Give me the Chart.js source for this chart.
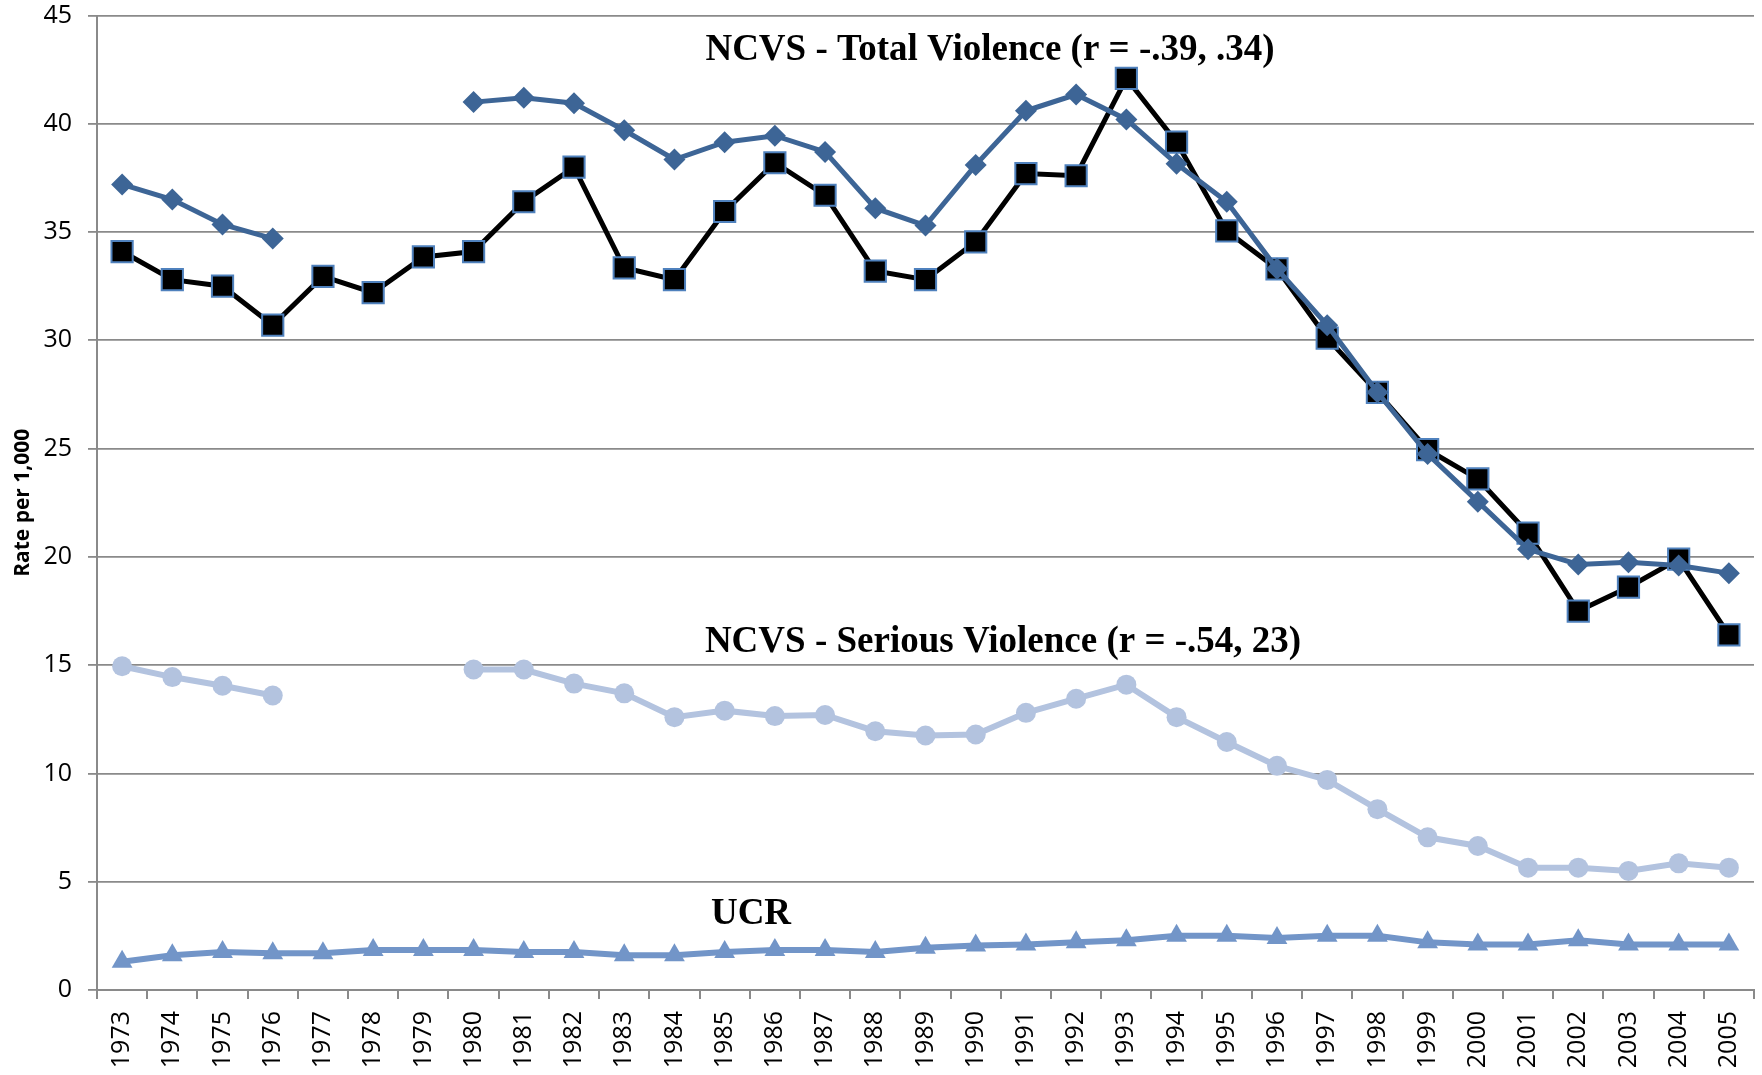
<!DOCTYPE html>
<html>
<head>
<meta charset="utf-8">
<script src="https://cdn.jsdelivr.net/npm/chart.js@4/dist/chart.umd.min.js"></script>
<style>
  html, body { margin: 0; padding: 0; background: #fff; overflow: hidden; }
  #wrap { width: 1762px; height: 1075px; position: relative; }
  canvas { display: block; }
</style>
</head>
<body>
<div id="wrap"><canvas id="chart" width="1762" height="1075"></canvas></div>
<script>
// years on the category axis
const years = [
  "1973","1974","1975","1976","1977","1978","1979","1980","1981","1982","1983",
  "1984","1985","1986","1987","1988","1989","1990","1991","1992","1993","1994",
  "1995","1996","1997","1998","1999","2000","2001","2002","2003","2004","2005"
];

// NCVS total violence (blue diamonds) - no survey values 1977-79
const ncvsTotal = [
  37.2, 36.5, 35.35, 34.7, null, null, null, 41.0, 41.2, 40.95, 39.7,
  38.35, 39.15, 39.45, 38.7, 36.1, 35.3, 38.1, 40.6, 41.35, 40.2, 38.15,
  36.4, 33.3, 30.7, 27.6, 24.75, 22.55, 20.35, 19.65, 19.75, 19.6, 19.25
];

// total violence, black squares
const totalSquares = [
  34.1, 32.8, 32.5, 30.7, 32.95, 32.2, 33.85, 34.1, 36.4, 38.0, 33.35,
  32.8, 35.95, 38.2, 36.7, 33.2, 32.8, 34.55, 37.7, 37.6, 42.1, 39.15,
  35.05, 33.3, 30.1, 27.6, 24.95, 23.6, 21.1, 17.5, 18.6, 19.9, 16.4
];

// NCVS serious violence (light circles)
const ncvsSerious = [
  14.95, 14.45, 14.05, 13.6, null, null, null, 14.8, 14.8, 14.15, 13.7,
  12.6, 12.9, 12.65, 12.7, 11.95, 11.75, 11.8, 12.8, 13.45, 14.1, 12.6,
  11.45, 10.35, 9.7, 8.35, 7.05, 6.65, 5.65, 5.65, 5.5, 5.85, 5.65
];

// UCR (triangles)
const ucr = [
  1.3, 1.6, 1.75, 1.7, 1.7, 1.85, 1.85, 1.85, 1.75, 1.75, 1.6,
  1.6, 1.75, 1.85, 1.85, 1.75, 1.95, 2.05, 2.1, 2.2, 2.3, 2.5,
  2.5, 2.4, 2.5, 2.5, 2.2, 2.1, 2.1, 2.3, 2.1, 2.1, 2.1
];

const yTicks = [0, 5, 10, 15, 20, 25, 30, 35, 40, 45];

const labelsText = [
  { text: "NCVS - Total Violence (r = -.39, .34)",   x: 990,  y: 60 },
  { text: "NCVS - Serious Violence (r = -.54, 23)",  x: 1003, y: 652 },
  { text: "UCR",                                       x: 751,  y: 924 }
];

const gridGray = "#8a8a8a";
const tickFont = { size: 25, family: "'Open Sans', sans-serif" };

const seriesLabels = {
  id: "seriesLabels",
  afterDatasetsDraw(chart) {
    const ctx = chart.ctx;
    ctx.save();
    ctx.fillStyle = "#000";
    ctx.font = "bold 37px 'Liberation Serif', 'Times New Roman', serif";
    ctx.textAlign = "center";
    ctx.textBaseline = "alphabetic";
    labelsText.forEach(l => ctx.fillText(l.text, l.x, l.y));
    ctx.restore();
  }
};

new Chart(document.getElementById("chart"), {
  type: "line",
  data: {
    labels: years,
    datasets: [
      {
        label: "NCVS Total",
        data: ncvsTotal,
        borderColor: "#3d6596",
        backgroundColor: "#3d6596",
        borderWidth: 5,
        pointStyle: "rectRot",
        pointRadius: 11,
        pointBorderWidth: 0,
        spanGaps: false,
        tension: 0
      },
      {
        label: "Total",
        data: totalSquares,
        borderColor: "#000",
        backgroundColor: "#000",
        pointBorderColor: "#4f81bd",
        borderWidth: 5,
        pointStyle: "rect",
        pointRadius: 15,
        pointBorderWidth: 2,
        tension: 0
      },
      {
        label: "NCVS Serious",
        data: ncvsSerious,
        borderColor: "#b3c3df",
        backgroundColor: "#b3c3df",
        borderWidth: 6,
        pointStyle: "circle",
        pointRadius: 10,
        pointBorderWidth: 0,
        spanGaps: false,
        tension: 0
      },
      {
        label: "UCR",
        data: ucr,
        borderColor: "#7295c8",
        backgroundColor: "#7295c8",
        borderWidth: 6,
        pointStyle: "triangle",
        pointRadius: 12,
        pointBorderWidth: 0,
        tension: 0
      }
    ]
  },
  options: {
    responsive: false,
    animation: false,
    clip: false,
    layout: { autoPadding: false, padding: { left: 0, top: 0, bottom: 0, right: 8 } },
    plugins: {
      legend: { display: false },
      tooltip: { enabled: false }
    },
    scales: {
      x: {
        offset: true,
        afterFit: s => { s.height = 85; s.paddingLeft = 0; s.paddingRight = 0; },
        grid: {
          offset: true,
          drawOnChartArea: false,
          drawTicks: true,
          tickLength: 9,
          color: gridGray,
          lineWidth: 2
        },
        border: { display: true, color: gridGray, width: 2 },
        ticks: {
          color: "#000",
          font: tickFont,
          minRotation: 90,
          maxRotation: 90,
          autoSkip: false,
          padding: 12
        }
      },
      y: {
        min: 0,
        max: 45,
        afterFit: s => { s.width = 97; s.paddingTop = 15.5; s.paddingBottom = 0; },
        afterBuildTicks: s => { s.ticks = yTicks.map(v => ({ value: v })); },
        grid: {
          color: gridGray,
          lineWidth: 1.8,
          tickLength: 9
        },
        border: { display: true, color: gridGray, width: 2 },
        ticks: {
          color: "#000",
          font: tickFont,
          padding: 16
        },
        title: {
          display: true,
          text: "Rate per 1,000",
          color: "#000",
          font: { size: 21, weight: "bold", family: "'Open Sans', sans-serif" },
          padding: { top: 10, bottom: 0 }
        }
      }
    }
  },
  plugins: [seriesLabels]
});
</script>
</body>
</html>
